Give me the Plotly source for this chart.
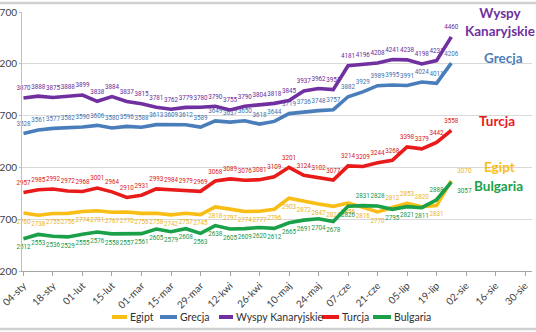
import plotly.graph_objects as go

# ---------------- data ----------------
week_ticks = ["04-sty", "18-sty", "01-lut", "15-lut", "01-mar", "15-mar", "29-mar",
              "12-kwi", "26-kwi", "10-maj", "24-maj", "07-cze", "21-cze", "05-lip",
              "19-lip", "02-sie", "16-sie", "30-sie"]
weeks = list(range(30))  # weekly observations starting 04-sty

series_names = ["Egipt", "Grecja", "Wyspy Kanaryjskie", "Turcja", "Bulgaria"]
egipt = [2760, 2738, 2755, 2756, 2774, 2781, 2767, 2770, 2756, 2758, 2742, 2757, 2745,
         2818, 2797, 2774, 2777, 2796, 2903, 2872, 2847, 2824, 2856, 2816, 2770, 2812,
         2853, 2820, 2831, 3070]
grecja = [3528, 3561, 3577, 3582, 3590, 3606, 3580, 3596, 3588, 3613, 3609, 3612, 3589,
          3649, 3637, 3650, 3618, 3644, 3719, 3736, 3748, 3757, 3882, 3929, 3989, 3995,
          3991, 4024, 4011, 4206]
wyspy = [3870, 3888, 3875, 3888, 3899, 3838, 3884, 3837, 3815, 3781, 3762, 3779, 3780,
         3790, 3755, 3790, 3804, 3818, 3845, 3937, 3962, 3951, 4181, 4196, 4208, 4241,
         4238, 4198, 4231, 4460]
turcja = [2957, 2985, 2992, 2972, 2968, 3001, 2964, 2910, 2931, 2993, 2984, 2979, 2969,
          3068, 3089, 3076, 3081, 3109, 3201, 3124, 3102, 3077, 3214, 3209, 3244, 3268,
          3398, 3379, 3442, 3558]
bulgaria = [2512, 2553, 2536, 2529, 2555, 2576, 2558, 2557, 2561, 2605, 2579, 2608, 2563,
            2638, 2605, 2609, 2620, 2612, 2665, 2691, 2704, 2678, 2826, 2831, 2828, 2795,
            2821, 2811, 2888, 3057]
y_ticks = [2200, 2700, 3200, 3700, 4200, 4700]

colors = ["#F8BE16", "#4A7EBB", "#7030A0", "#E81A1A", "#1BA04A"]
label_colors = ["#EDB31A", "#3F72B0", "#6A2C98", "#D81818", "#17964A"]

# label placement per point
egipt_pos = ["bottom center"] * 30
for i in (25, 26, 27):
    egipt_pos[i] = "top center"
egipt_pos[29] = "top right"
bulg_pos = ["bottom center"] * 30
for i in (23, 24, 28):
    bulg_pos[i] = "top center"
bulg_pos[29] = "bottom right"
top_pos = ["top center"] * 30

all_vals = [egipt, grecja, wyspy, turcja, bulgaria]
all_pos = [egipt_pos, top_pos, top_pos, top_pos, bulg_pos]

# ---------------- layout geometry ----------------
W, H = 536, 332
ML, MR, MT, MB = 22, 4, 12, 61
PW, PH = W - ML - MR, H - MT - MB


def px(x):
    return (x - ML) / PW


def py(y):
    return (H - MB - y) / PH


fig = go.Figure()
for name, vals, col, lcol, pos in zip(series_names, all_vals, colors, label_colors, all_pos):
    fig.add_trace(go.Scatter(
        x=weeks, y=vals, name=name, mode="lines+markers+text",
        line=dict(color=col, width=3.6),
        marker=dict(size=8, opacity=0, color=col),
        text=[str(v) for v in vals], textposition=pos,
        textfont=dict(family="Roboto", size=6.3, color=lcol),
        cliponaxis=False, showlegend=False, hoverinfo="x+y",
    ))

fig.update_layout(
    width=W, height=H,
    margin=dict(l=ML, r=MR, t=MT, b=MB, autoexpand=False),
    paper_bgcolor="white", plot_bgcolor="white",
    font=dict(family="Lato", color="#404040"),
    xaxis=dict(range=[-0.1, 34.47], tickvals=list(range(0, 35, 2)), ticktext=week_ticks,
               tickangle=-45, tickfont=dict(size=10, color="#404040"),
               showline=True, linecolor="#A6A6A6", linewidth=1,
               ticks="outside", ticklen=4, tickcolor="#A6A6A6",
               showgrid=False, zeroline=False, automargin=False,
               ticklabeloverflow="allow"),
    yaxis=dict(range=[2200, 4700], tickvals=y_ticks, tickfont=dict(size=10, color="#404040"),
               showline=True, linecolor="#BFBFBF", linewidth=1,
               ticks="outside", ticklen=2, tickcolor="#BFBFBF",
               showgrid=True, gridcolor="#D9D9D9", gridwidth=1,
               zeroline=False, automargin=False, ticklabeloverflow="allow"),
)

# frame lines
for yy in (3, 329):
    fig.add_shape(type="line", xref="paper", yref="paper", x0=px(0), x1=px(W), y0=py(yy), y1=py(yy),
                  line=dict(color="#D0D0D0", width=2.5))

# legend drawn manually (compact Excel-like)
leg_swatch = [(112, 127), (160, 177), (219, 233), (322, 339), (373, 391)]
for name, col, (s0, s1) in zip(series_names, colors, leg_swatch):
    fig.add_shape(type="line", xref="paper", yref="paper", x0=px(s0), x1=px(s1),
                  y0=py(317), y1=py(317), line=dict(color=col, width=4))
    fig.add_annotation(xref="paper", yref="paper", x=px(s1 + 1), y=py(317), text=name,
                       showarrow=False, xanchor="left", yanchor="middle",
                       font=dict(family="Lato", size=10.5, color="#303030"))

# series names at right
right_labels = [("Wyspy<br>Kanaryjskie", 2, 500, 22), ("Grecja", 1, 503, 58), ("Turcja", 3, 497, 121),
                ("Egipt", 0, 499, 167), ("Bulgaria", 4, 498, 186)]
for txt, ci, cx, cy in right_labels:
    fig.add_annotation(xref="paper", yref="paper", x=px(cx), y=py(cy), text=txt,
                       showarrow=False, xanchor="center", yanchor="middle", align="center",
                       font=dict(family="Lato", size=13.5, color=colors[ci], weight="bold"))

fig.write_html("out.html")
